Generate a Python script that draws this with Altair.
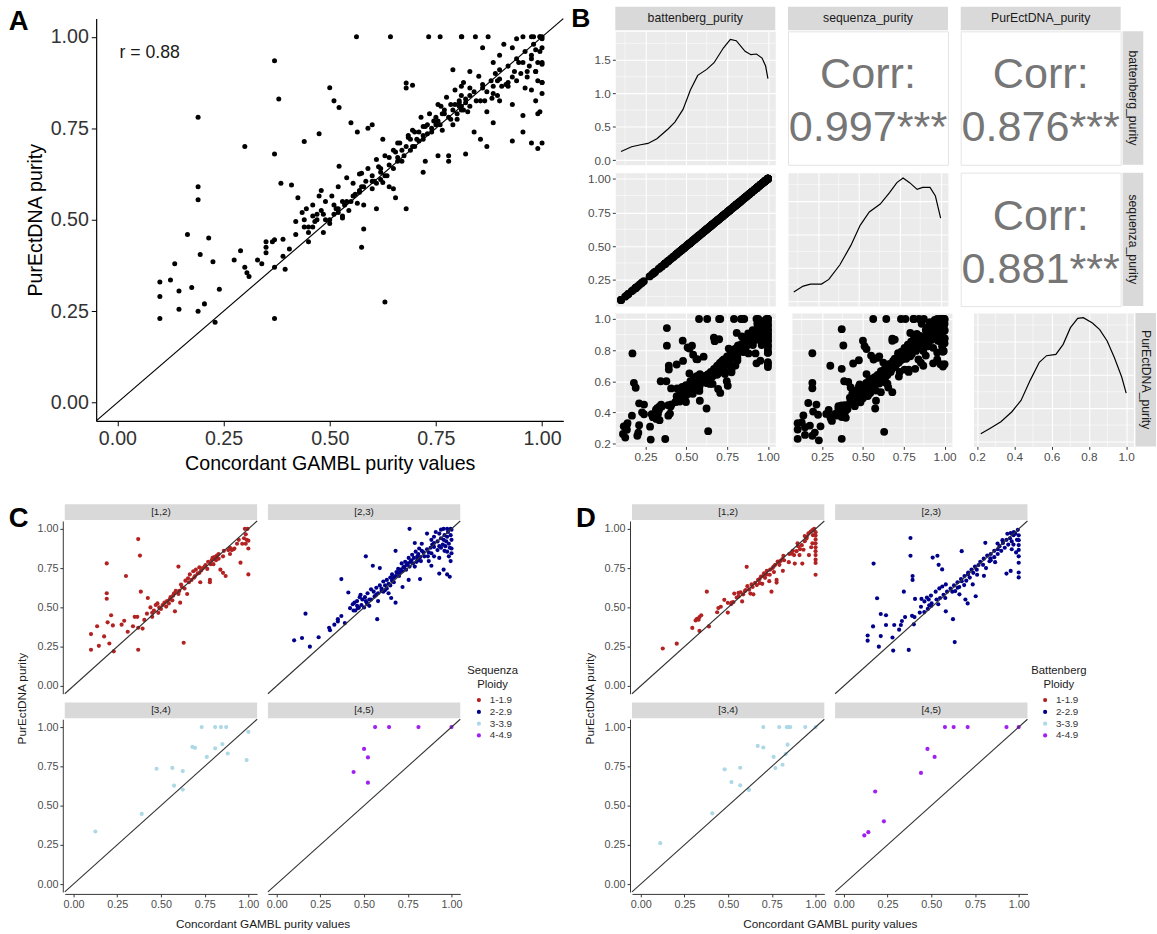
import altair as alt
import pandas as pd

FONT = "Liberation Sans"

# ---------------- values ----------------
# Panel C: (concordant GAMBL purity, PurEctDNA purity) split by Sequenza ploidy
seq_ploidy_1 = [
    (0.10, 0.33), (0.10, 0.23), (0.145, 0.255), (0.135, 0.38), (0.175, 0.315), (0.195, 0.405), (0.205, 0.27),
    (0.19, 0.78), (0.19, 0.59), (0.19, 0.555), (0.215, 0.45), (0.225, 0.385), (0.23, 0.22), (0.275, 0.39),
    (0.29, 0.415), (0.30, 0.70), (0.31, 0.345), (0.34, 0.38), (0.35, 0.44), (0.37, 0.935), (0.365, 0.44),
    (0.37, 0.23), (0.37, 0.37), (0.38, 0.83), (0.385, 0.60), (0.395, 0.365), (0.405, 0.42), (0.425, 0.56),
    (0.42, 0.46), (0.44, 0.50), (0.45, 0.44), (0.46, 0.48), (0.47, 0.515), (0.48, 0.525), (0.485, 0.465),
    (0.50, 0.49), (0.51, 0.515), (0.53, 0.505), (0.535, 0.54), (0.545, 0.525), (0.555, 0.565), (0.565, 0.545),
    (0.575, 0.59), (0.58, 0.475), (0.585, 0.605), (0.60, 0.76), (0.605, 0.605), (0.61, 0.53), (0.615, 0.645),
    (0.63, 0.275), (0.635, 0.62), (0.64, 0.67), (0.65, 0.585), (0.655, 0.685), (0.665, 0.71), (0.675, 0.675),
    (0.685, 0.73), (0.695, 0.70), (0.70, 0.74), (0.71, 0.715), (0.72, 0.755), (0.725, 0.66), (0.73, 0.735),
    (0.74, 0.75), (0.755, 0.77), (0.765, 0.745), (0.77, 0.79), (0.78, 0.675), (0.78, 0.66), (0.785, 0.775),
    (0.795, 0.815), (0.80, 0.775), (0.805, 0.82), (0.815, 0.80), (0.82, 0.83), (0.83, 0.81), (0.84, 0.74),
    (0.855, 0.72), (0.87, 0.70), (0.855, 0.825), (0.885, 0.865), (0.895, 0.88), (0.905, 0.865), (0.915, 0.87),
    (0.895, 0.84), (0.92, 0.875), (0.935, 0.905), (0.945, 0.93), (0.955, 0.785), (0.965, 0.905), (0.975, 0.94),
    (0.98, 1.0), (0.995, 1.0), (0.985, 0.965), (0.99, 0.93), (1.0, 0.875), (1.0, 0.925), (1.0, 0.71), (0.985, 0.905),
    (0.62, 0.63), (0.66, 0.66), (0.69, 0.69), (0.72, 0.72), (0.75, 0.76), (0.79, 0.80), (0.81, 0.81), (0.83, 0.84),
    (0.86, 0.86), (0.60, 0.585), (0.57, 0.575), (0.55, 0.55), (0.52, 0.53), (0.49, 0.50), (0.45, 0.465),
]
seq_ploidy_2 = [
    (0.10, 0.29), (0.145, 0.305), (0.165, 0.46), (0.19, 0.25), (0.24, 0.31), (0.30, 0.37), (0.305, 0.355),
    (0.33, 0.39), (0.35, 0.425), (0.35, 0.41), (0.37, 0.68), (0.37, 0.445), (0.39, 0.40), (0.41, 0.595),
    (0.42, 0.495), (0.435, 0.52), (0.445, 0.53), (0.45, 0.48), (0.46, 0.54), (0.465, 0.495), (0.475, 0.565),
    (0.48, 0.58), (0.485, 0.515), (0.49, 0.55), (0.505, 0.565), (0.51, 0.825), (0.515, 0.53), (0.52, 0.59),
    (0.53, 0.51), (0.54, 0.615), (0.55, 0.765), (0.555, 0.60), (0.57, 0.625), (0.575, 0.425), (0.58, 0.54),
    (0.59, 0.64), (0.59, 0.75), (0.60, 0.605), (0.61, 0.665), (0.62, 0.64), (0.63, 0.675), (0.64, 0.59),
    (0.65, 0.69), (0.655, 0.56), (0.66, 0.71), (0.67, 0.69), (0.68, 0.86), (0.68, 0.53), (0.685, 0.725),
    (0.695, 0.745), (0.705, 0.72), (0.715, 0.78), (0.72, 0.63), (0.725, 0.755), (0.735, 0.79), (0.745, 0.77),
    (0.755, 0.675), (0.76, 1.0), (0.755, 0.815), (0.765, 0.79), (0.775, 0.835), (0.785, 0.815), (0.79, 0.91),
    (0.795, 0.855), (0.805, 0.825), (0.81, 0.80), (0.815, 0.875), (0.82, 0.68),
    (0.83, 0.905), (0.86, 0.97), (0.885, 0.93), (0.90, 0.95), (0.91, 0.98), (0.93, 0.97), (0.94, 0.995),
    (0.955, 1.0), (0.975, 1.0), (0.995, 1.0), (1.0, 0.995), (0.955, 0.93), (0.975, 0.95), (0.995, 0.96),
    (1.0, 0.93), (0.985, 0.905), (0.965, 0.89), (0.94, 0.88), (0.92, 0.865), (0.90, 0.885), (0.885, 0.845),
    (0.865, 0.825), (0.845, 0.825), (0.825, 0.795), (0.805, 0.81), (0.90, 0.825), (0.93, 0.815), (0.985, 0.825),
    (0.995, 0.795), (1.0, 0.845), (1.0, 0.875), (0.975, 0.855), (0.93, 0.715), (0.955, 0.74), (0.975, 0.71),
    (0.99, 0.695), (0.87, 0.795), (0.885, 0.765),
    (0.50, 0.50), (0.52, 0.52), (0.54, 0.55), (0.56, 0.57), (0.58, 0.59), (0.60, 0.62), (0.62, 0.61),
    (0.64, 0.65), (0.66, 0.67), (0.68, 0.70), (0.70, 0.70), (0.72, 0.73), (0.74, 0.74), (0.76, 0.76),
    (0.78, 0.78), (0.80, 0.79), (0.82, 0.82), (0.84, 0.85), (0.86, 0.87), (0.88, 0.88), (0.90, 0.91),
    (0.92, 0.92), (0.94, 0.94), (0.96, 0.96), (0.98, 0.98), (0.97, 0.92), (0.95, 0.90), (0.99, 0.88),
    (0.96, 0.86), (0.93, 0.89), (0.89, 0.90), (0.87, 0.85), (0.83, 0.86), (0.81, 0.84), (0.79, 0.76),
    (0.77, 0.80), (0.75, 0.78), (0.73, 0.76), (0.71, 0.74), (0.69, 0.72), (0.67, 0.66), (0.65, 0.64),
    (0.63, 0.62), (0.61, 0.60), (0.57, 0.58), (0.53, 0.55), (0.51, 0.54), (0.47, 0.50), (0.46, 0.51), (0.44, 0.48),
]
seq_ploidy_3 = [
    (0.125, 0.335), (0.39, 0.447), (0.475, 0.735), (0.565, 0.74), (0.575, 0.627), (0.625, 0.72), (0.625, 0.602),
    (0.68, 0.874), (0.695, 0.868), (0.733, 1.0), (0.762, 0.81), (0.81, 1.0), (0.843, 1.0), (0.873, 1.0),
    (0.81, 0.865), (0.851, 0.892), (0.882, 0.832), (0.99, 0.79), (1.0, 0.97),
]
seq_ploidy_4 = [
    (0.44, 0.714), (0.50, 0.861), (0.522, 0.807), (0.522, 0.646), (0.563, 1.0), (0.643, 1.0), (0.811, 1.0), (1.0, 1.0),
]

# Panel D: same axes, split by Battenberg ploidy
bat_ploidy_1 = [
    (0.126, 0.238), (0.206, 0.269), (0.295, 0.369), (0.314, 0.417), (0.322, 0.427), (0.336, 0.438), (0.346, 0.45),
    (0.331, 0.421), (0.336, 0.35), (0.378, 0.60), (0.39, 0.379), (0.437, 0.469), (0.444, 0.496), (0.458, 0.504),
    (0.478, 0.548), (0.498, 0.467), (0.498, 0.529), (0.517, 0.521), (0.529, 0.533), (0.535, 0.588), (0.549, 0.563),
    (0.559, 0.592), (0.571, 0.596), (0.58, 0.538), (0.586, 0.583), (0.596, 0.604), (0.606, 0.758), (0.61, 0.635),
    (0.62, 0.613), (0.627, 0.588), (0.634, 0.646), (0.644, 0.583), (0.654, 0.656), (0.664, 0.642), (0.671, 0.675),
    (0.681, 0.654), (0.688, 0.696), (0.695, 0.65), (0.705, 0.717), (0.711, 0.688), (0.721, 0.733), (0.735, 0.667),
    (0.738, 0.708), (0.748, 0.60), (0.754, 0.75), (0.762, 0.725), (0.769, 0.771), (0.777, 0.675), (0.777, 0.658),
    (0.783, 0.792), (0.793, 0.771), (0.80, 0.796), (0.81, 0.808), (0.816, 0.829), (0.813, 0.733), (0.847, 0.788),
    (0.864, 0.842), (0.877, 0.833), (0.881, 0.779), (0.891, 0.858), (0.897, 0.908), (0.908, 0.833), (0.911, 0.871),
    (0.921, 0.896), (0.924, 0.779), (0.931, 0.867), (0.938, 0.954), (0.938, 0.921), (0.948, 0.938), (0.959, 0.971),
    (0.962, 0.833), (0.972, 0.983), (0.982, 0.992), (0.992, 1.0), (1.0, 0.979), (1.0, 0.958), (1.0, 0.933),
    (1.0, 0.908), (1.0, 0.883), (1.0, 0.858), (1.0, 0.833), (1.0, 0.804), (1.0, 0.783), (1.0, 0.708),
    (0.982, 0.908), (0.975, 0.883),
    (0.60, 0.61), (0.64, 0.63), (0.68, 0.68), (0.70, 0.70), (0.72, 0.71), (0.74, 0.74), (0.76, 0.76),
    (0.79, 0.79), (0.82, 0.80), (0.85, 0.84), (0.87, 0.86), (0.90, 0.89), (0.95, 0.95), (0.985, 0.96),
    (0.56, 0.57), (0.52, 0.53),
]
bat_ploidy_2 = [
    (0.136, 0.321), (0.136, 0.288), (0.20, 0.25), (0.167, 0.379), (0.17, 0.779), (0.19, 0.558), (0.211, 0.458),
    (0.211, 0.317), (0.241, 0.45), (0.241, 0.388), (0.278, 0.308), (0.282, 0.225), (0.288, 0.388), (0.316, 0.358),
    (0.326, 0.388), (0.332, 0.413), (0.343, 0.60), (0.35, 0.438), (0.371, 0.229), (0.381, 0.942), (0.381, 0.829),
    (0.39, 0.446), (0.404, 0.438), (0.393, 0.70), (0.393, 0.675), (0.40, 0.392), (0.434, 0.467), (0.407, 0.554),
    (0.441, 0.504), (0.444, 0.554), (0.461, 0.538), (0.475, 0.563), (0.485, 0.55), (0.498, 0.575), (0.488, 0.513),
    (0.502, 0.525), (0.508, 0.817), (0.535, 0.829), (0.542, 0.771), (0.562, 0.742), (0.525, 0.60), (0.546, 0.621),
    (0.563, 0.633), (0.583, 0.646), (0.583, 0.475), (0.624, 0.425), (0.634, 0.279), (0.637, 0.604), (0.651, 0.625),
    (0.661, 0.583), (0.674, 0.667), (0.688, 0.642), (0.695, 0.55), (0.708, 0.525), (0.674, 0.858), (0.711, 0.721),
    (0.737, 0.646), (0.762, 0.708), (0.796, 0.771), (0.813, 0.75), (0.838, 0.813), (0.754, 0.571),
    (0.809, 0.911), (0.879, 0.907), (0.907, 0.928), (0.935, 0.969), (0.954, 0.973), (0.972, 0.979), (0.995, 0.994),
    (1.0, 0.959), (1.0, 0.928), (1.0, 0.897), (1.0, 0.866), (1.0, 0.825), (1.0, 0.784), (1.0, 0.722), (1.0, 0.691),
    (0.93, 0.715), (0.954, 0.732), (0.865, 0.788), (0.833, 0.794), (0.801, 0.701),
    (0.50, 0.51), (0.53, 0.55), (0.55, 0.56), (0.57, 0.58), (0.59, 0.60), (0.61, 0.62), (0.63, 0.64),
    (0.65, 0.66), (0.67, 0.68), (0.69, 0.70), (0.71, 0.71), (0.73, 0.74), (0.75, 0.76), (0.77, 0.77),
    (0.78, 0.79), (0.80, 0.81), (0.82, 0.83), (0.84, 0.84), (0.86, 0.86), (0.88, 0.87), (0.89, 0.89),
    (0.91, 0.91), (0.93, 0.93), (0.95, 0.94), (0.97, 0.96), (0.98, 0.97), (0.96, 0.92), (0.94, 0.90),
    (0.92, 0.88), (0.90, 0.86), (0.88, 0.84), (0.86, 0.82), (0.84, 0.80), (0.97, 0.90), (0.99, 0.93),
    (0.985, 0.85), (0.96, 0.87), (0.72, 0.69), (0.74, 0.72), (0.76, 0.74), (0.70, 0.67), (0.66, 0.63),
    (0.62, 0.60), (0.58, 0.56), (0.54, 0.52), (0.48, 0.49), (0.46, 0.47),
]
bat_ploidy_3 = [
    (0.112, 0.261), (0.409, 0.451), (0.48, 0.731), (0.519, 0.65), (0.569, 0.741), (0.569, 0.629), (0.619, 0.60),
    (0.669, 0.88), (0.701, 0.87), (0.701, 1.0), (0.76, 0.81), (0.77, 0.739), (0.792, 1.0), (0.811, 0.76),
    (0.829, 0.828), (0.835, 1.0), (0.846, 1.0), (0.855, 1.0), (0.84, 0.888), (0.941, 1.0), (1.0, 1.0),
]
bat_ploidy_4 = [
    (0.117, 0.31), (0.14, 0.331), (0.179, 0.59), (0.229, 0.40), (0.441, 0.708), (0.478, 0.861), (0.519, 0.81),
    (0.578, 1.0), (0.628, 1.0), (0.708, 1.0), (0.93, 1.0), (1.0, 1.0),
]

# Panel B diagonal density curves
battenberg_density_x = [0.10, 0.165, 0.22, 0.265, 0.32, 0.39, 0.43, 0.48, 0.525, 0.57, 0.625, 0.67, 0.727,
                        0.77, 0.806, 0.86, 0.896, 0.93, 0.964, 0.986, 1.0]
battenberg_density_y = [0.13, 0.20, 0.23, 0.25, 0.32, 0.47, 0.57, 0.76, 1.05, 1.27, 1.36, 1.46, 1.68,
                        1.81, 1.79, 1.63, 1.58, 1.59, 1.53, 1.41, 1.22]
sequenza_density_x = [0.10, 0.158, 0.203, 0.27, 0.315, 0.383, 0.45, 0.507, 0.563, 0.63, 0.687, 0.732, 0.77,
                      0.81, 0.856, 0.89, 0.935, 0.968, 1.0]
sequenza_density_y = [0.14, 0.23, 0.26, 0.26, 0.33, 0.55, 0.84, 1.14, 1.34, 1.46, 1.63, 1.78, 1.85,
                      1.78, 1.68, 1.71, 1.71, 1.58, 1.25]
purectdna_density_x = [0.22, 0.269, 0.328, 0.387, 0.436, 0.485, 0.534, 0.573, 0.623, 0.662, 0.701, 0.74, 0.77,
                       0.819, 0.858, 0.898, 0.937, 0.976, 1.0]
purectdna_density_y = [0.12, 0.20, 0.30, 0.45, 0.62, 0.92, 1.19, 1.29, 1.31, 1.46, 1.71, 1.85, 1.86,
                       1.78, 1.68, 1.51, 1.26, 0.97, 0.73]

corr_bat_seq = "0.997***"
corr_bat_pur = "0.876***"
corr_seq_pur = "0.881***"
r_label = "r = 0.88"
pair_vars = ["battenberg_purity", "sequenza_purity", "PurEctDNA_purity"]
ploidy_levels = ["1-1.9", "2-2.9", "3-3.9", "4-4.9"]
facet_levels = ["[1,2)", "[2,3)", "[3,4)", "[4,5)"]
ploidy_colors = ["#B22222", "#00008B", "#ADD8E6", "#A020F0"]


# ---------------- tables ----------------
def points_table(groups):
    rows = []
    for gi, pts in enumerate(groups):
        for x, y in pts:
            rows.append({"x": x, "y": y, "grp": ploidy_levels[gi], "lab": facet_levels[gi],
                         "r": gi // 2, "c": gi % 2})
    return pd.DataFrame(rows)


seq_df = points_table([seq_ploidy_1, seq_ploidy_2, seq_ploidy_3, seq_ploidy_4])
bat_df = points_table([bat_ploidy_1, bat_ploidy_2, bat_ploidy_3, bat_ploidy_4])
same_df = pd.DataFrame({"x": seq_df["x"], "y": seq_df["x"]})
dens_tables = [
    pd.DataFrame({"x": battenberg_density_x, "d": battenberg_density_y}),
    pd.DataFrame({"x": sequenza_density_x, "d": sequenza_density_y}),
    pd.DataFrame({"x": purectdna_density_x, "d": purectdna_density_y}),
]
diag_df = pd.DataFrame({"x": [-0.05], "y": [-0.05], "x2": [1.05], "y2": [1.05]})


def sc(d, rng=None):
    if rng is None:
        return alt.Scale(domain=d, nice=False, zero=False)
    return alt.Scale(domain=d, nice=False, zero=False, range=rng)


TICK01 = [0, 0.25, 0.5, 0.75, 1.0]
DOM01 = [-0.05, 1.05]

# ---------------- Panel A ----------------
AW, AH = 476, 410      # plot area
SX, SY = 32, 13        # plot shifted right / up inside its view
axA = dict(values=TICK01, format=".2f", grid=False, domainColor="black", domainWidth=1.2,
           tickColor="black", tickSize=5, labelFontSize=20, labelColor="#333333", labelPadding=3,
           titleFontSize=20, titleFontWeight="normal", titleColor="black", labelFlush=False, titlePadding=5)
xA = alt.Axis(title="Concordant GAMBL purity values", **axA)
yA = alt.Axis(title="PurEctDNA purity", offset=-SX, **axA)
xsA = sc(DOM01, [SX, SX + AW])
ysA = sc(DOM01, [AH - SY, -SY])
ptsA = alt.Chart(seq_df).mark_circle(size=26, color="black", opacity=1).encode(
    x=alt.X("x:Q", scale=xsA, axis=xA), y=alt.Y("y:Q", scale=ysA, axis=yA))
diagA = alt.Chart(diag_df).mark_rule(color="black", strokeWidth=1.2).encode(
    x=alt.X("x:Q", scale=xsA, axis=xA), y=alt.Y("y:Q", scale=ysA, axis=yA),
    x2="x2:Q", y2="y2:Q")
rtext = alt.Chart(pd.DataFrame({"x": [0.005], "y": [0.955], "t": [r_label]})).mark_text(
    align="left", baseline="middle", fontSize=18, color="#1A1A1A").encode(
    x=alt.X("x:Q", scale=xsA, axis=xA), y=alt.Y("y:Q", scale=ysA, axis=yA), text="t:N")
labA = alt.Chart(pd.DataFrame({"t": ["A"]})).mark_text(
    align="left", baseline="middle", fontSize=28, fontWeight="bold", color="black").encode(
    x=alt.value(SX - 89), y=alt.value(-SY + 4), text="t:N")
chartA = alt.layer(ptsA, diagA, rtext, labA).properties(width=SX + AW, height=AH - SY)

# ---------------- Panel B ----------------
BW, BH = 163, 136
BFS = 12
B_XDOM = [[0.065, 1.045], [0.065, 1.045], [0.181, 1.039]]
B_XMAJ = [[0.25, 0.5, 0.75, 1.0], [0.25, 0.5, 0.75, 1.0], [0.2, 0.4, 0.6, 0.8, 1.0]]
B_XMIN = [[0.125, 0.375, 0.625, 0.875], [0.125, 0.375, 0.625, 0.875], [0.3, 0.5, 0.7, 0.9]]
B_XFMT = [".2f", ".2f", ".1f"]
B_YDOM = [[-0.07, 1.93], [0.055, 1.045], [0.181, 1.039]]
B_YMAJ = [[0, 0.5, 1.0, 1.5], [0.25, 0.5, 0.75, 1.0], [0.2, 0.4, 0.6, 0.8, 1.0]]
B_YMIN = [[0.25, 0.75, 1.25, 1.75], [0.125, 0.375, 0.625, 0.875], [0.3, 0.5, 0.7, 0.9]]
B_YFMT = [".1f", ".2f", ".1f"]
DENS_DOM, DENS_MAJ, DENS_MIN = [-0.07, 1.93], [0, 0.5, 1.0, 1.5], [0.25, 0.75, 1.25, 1.75]


def b_axis(vals, fmt, show, is_y):
    base = dict(values=vals, title=None, domain=False, grid=True, gridColor="white", gridWidth=1.1)
    if show:
        extra = dict(minExtent=45, maxExtent=45) if is_y else {}
        return alt.Axis(format=fmt, ticks=True, tickSize=3, tickColor="#333333", labelFontSize=BFS,
                        labelColor="#4D4D4D", labelPadding=2, labelFlush=False, **extra, **base)
    return alt.Axis(labels=False, ticks=False, minExtent=0, maxExtent=0, **base)


def top_strip(label):
    d = pd.DataFrame({"t": [label]})
    r = alt.Chart(d).mark_rect(color="#D9D9D9").encode(
        x=alt.value(0), x2=alt.value(BW), y=alt.value(-25), y2=alt.value(-1))
    t = alt.Chart(d).mark_text(fontSize=12.5, color="#1A1A1A").encode(
        x=alt.value(BW / 2), y=alt.value(-13), text="t:N")
    return [r, t]


def right_strip(label):
    d = pd.DataFrame({"t": [label]})
    r = alt.Chart(d).mark_rect(color="#D9D9D9").encode(
        x=alt.value(BW + 2), x2=alt.value(BW + 23), y=alt.value(0), y2=alt.value(BH))
    t = alt.Chart(d).mark_text(fontSize=12.5, color="#1A1A1A", angle=90).encode(
        x=alt.value(BW + 12.5), y=alt.value(BH / 2), text="t:N")
    return [r, t]


corr_text = {(0, 1): corr_bat_seq, (0, 2): corr_bat_pur, (1, 2): corr_seq_pur}
scatter_data = {(1, 0): same_df, (2, 0): bat_df, (2, 1): seq_df}


def b_cell(r, c):
    if r < c:
        d = pd.DataFrame({"a": ["Corr:"], "b": [corr_text[(r, c)]]})
        layers = [
            alt.Chart(d).mark_text(fontSize=44, color="#767676").encode(
                x=alt.value(BW / 2), y=alt.value(45), text="a:N"),
            alt.Chart(d).mark_text(fontSize=44, color="#767676").encode(
                x=alt.value(BW / 2), y=alt.value(99), text="b:N"),
        ]
        view = alt.ViewBackground(fill="white", stroke="#E3E3E3", strokeWidth=1)
    else:
        xd = B_XDOM[c]
        xax = b_axis(B_XMAJ[c], B_XFMT[c], r == 2, False)
        if r == c:
            yd, ymaj, ymin, yfmt = DENS_DOM, DENS_MAJ, DENS_MIN, ".1f"
        else:
            yd, ymaj, ymin, yfmt = B_YDOM[r], B_YMAJ[r], B_YMIN[r], B_YFMT[r]
        yax = b_axis(ymaj, yfmt, c == 0, True)
        X = alt.X("x:Q", scale=sc(xd), axis=xax)
        minor_x = alt.Chart(pd.DataFrame({"x": B_XMIN[c]})).mark_rule(color="white", strokeWidth=0.55).encode(x=X)
        if r == c:
            minor_y = alt.Chart(pd.DataFrame({"d": ymin})).mark_rule(color="white", strokeWidth=0.55).encode(
                y=alt.Y("d:Q", scale=sc(yd), axis=yax))
            content = alt.Chart(dens_tables[r]).mark_line(color="black", strokeWidth=1.2).encode(
                x=X, y=alt.Y("d:Q", scale=sc(yd), axis=yax))
        else:
            minor_y = alt.Chart(pd.DataFrame({"y": ymin})).mark_rule(color="white", strokeWidth=0.55).encode(
                y=alt.Y("y:Q", scale=sc(yd), axis=yax))
            content = alt.Chart(scatter_data[(r, c)]).mark_circle(size=64, color="black", opacity=1).encode(
                x=X, y=alt.Y("y:Q", scale=sc(yd), axis=yax))
        layers = [minor_x, minor_y, content]
        view = alt.ViewBackground(fill="#EBEBEB", stroke="transparent")
    if r == 0:
        layers += top_strip(pair_vars[c])
    if c == 2:
        layers += right_strip(pair_vars[r])
    if r == 0 and c == 0:
        layers.append(alt.Chart(pd.DataFrame({"t": ["B"]})).mark_text(
            align="left", baseline="middle", fontSize=27, fontWeight="bold", color="black").encode(
            x=alt.value(-45), y=alt.value(-12), text="t:N"))
    return alt.layer(*layers).properties(width=BW, height=BH, view=view)


B_rows = [alt.hconcat(*[b_cell(r, c) for c in range(3)], spacing=11) for r in range(3)]
chartB = alt.vconcat(*B_rows, spacing=5)


# ---------------- Panels C and D ----------------
def ploidy_panel(df, legend_title, letter, W, H, lx, ly):
    ax = dict(values=TICK01, format=".2f", title=None, grid=False, domainColor="#333333", domainWidth=1,
              tickColor="#333333", tickSize=3, labelFontSize=11, labelColor="#4D4D4D", labelPadding=2,
              labelFlush=False)
    pts = alt.Chart().mark_circle(size=18, opacity=1).encode(
        x=alt.X("x:Q", scale=sc(DOM01), axis=alt.Axis(**ax)),
        y=alt.Y("y:Q", scale=sc(DOM01), axis=alt.Axis(**ax)),
        color=alt.Color("grp:N", scale=alt.Scale(domain=ploidy_levels, range=ploidy_colors),
                        legend=alt.Legend(title=legend_title, orient="none", legendX=lx, legendY=ly,
                                          titleAlign="center", titleAnchor="middle", titleFontSize=11.5,
                                          titleFontWeight="normal", titleColor="#1A1A1A", titleLineHeight=14,
                                          labelFontSize=10, labelColor="#333333", symbolType="circle",
                                          symbolSize=18, symbolStrokeWidth=0, rowPadding=2, titlePadding=5,
                                          labelOffset=6, padding=0)))
    diag = alt.Chart().mark_rule(color="#333333", strokeWidth=1.1).encode(
        x=alt.datum(-0.05), y=alt.datum(-0.05), x2=alt.datum(1.05), y2=alt.datum(1.05),
        detail=alt.Detail("count():Q"))
    strip = alt.Chart().mark_rect(color="#D9D9D9").encode(
        x=alt.value(0), x2=alt.value(W), y=alt.value(-17), y2=alt.value(-1), detail=alt.Detail("count():Q"))
    strip_t = alt.Chart().mark_text(fontSize=10, color="#1A1A1A").encode(
        x=alt.value(W / 2), y=alt.value(-9), text="lab:N", detail=alt.Detail("count():Q"))
    lay = alt.layer(strip, strip_t, pts, diag, data=df).properties(width=W, height=H)
    return lay.facet(
        row=alt.Row("r:O", header=alt.Header(labels=False, title="PurEctDNA purity", titleFontSize=12,
                                             titleFontWeight="normal", titleColor="#1A1A1A",
                                             titlePadding=-3, labelPadding=0)),
        column=alt.Column("c:O", header=alt.Header(labels=False, title="Concordant GAMBL purity values",
                                                   titleOrient="bottom", titleFontSize=12,
                                                   titleFontWeight="normal", titleColor="#1A1A1A",
                                                   titlePadding=0, labelPadding=0)),
        spacing={"row": 6, "column": 7},
    ).properties(title=alt.TitleParams(letter, anchor="start", fontSize=28, fontWeight="bold", color="black",
                                       offset=-58, baseline="bottom", dx=-8))


FW = 196
chartC = ploidy_panel(seq_df, ["Sequenza", "Ploidy"], "C", FW, 176, 410, 147)
chartD = ploidy_panel(bat_df, ["Battenberg", "Ploidy"], "D", FW, 176, 407, 147)

top = alt.concat(chartA, chartB, columns=2, spacing=5, align="none")
bottom = alt.concat(chartC, chartD, columns=2, spacing=58, align="none").resolve_scale(
    color="independent").resolve_legend(color="independent")

chart = alt.concat(top, bottom, columns=1, spacing=30, align="none").properties(
    padding={"left": 8, "top": -4, "right": 0, "bottom": 0}
).configure(font=FONT).configure_view(stroke="transparent")

chart.save("out.html", embed_options={"renderer": "svg", "actions": False})
